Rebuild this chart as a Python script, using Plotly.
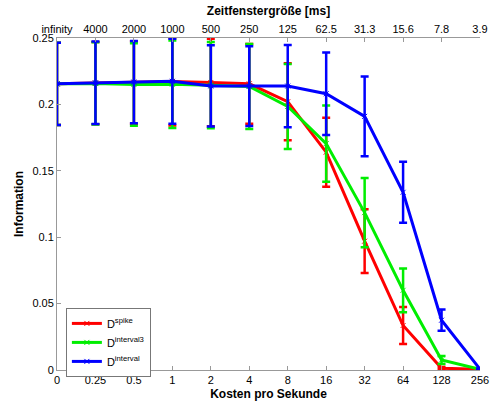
import numpy as np
import plotly.graph_objects as go

cost_labels = ["0", "0.25", "0.5", "1", "2", "4", "8", "16", "32", "64", "128", "256"]
window_labels = ["infinity", "4000", "2000", "1000", "500", "250", "125", "62.5", "31.3", "15.6", "7.8", "3.9"]

spike_mean = [0.2155, 0.2160, 0.2165, 0.2172, 0.2165, 0.2155, 0.2020, 0.1640, 0.0970, 0.0335, 0.0013, 0.0005]
spike_err = [0.031, 0.031, 0.031, 0.033, 0.033, 0.030, 0.029, 0.026, 0.024, 0.014, 0.001, 0.0003]

int3_mean = [0.2155, 0.2158, 0.2150, 0.2152, 0.2145, 0.2135, 0.1985, 0.1705, 0.1185, 0.0600, 0.0075, 0.0005]
int3_err = [0.031, 0.031, 0.031, 0.033, 0.0325, 0.032, 0.032, 0.0287, 0.026, 0.0165, 0.003, 0.0003]

int_mean = [0.2155, 0.2163, 0.2168, 0.2174, 0.2139, 0.2138, 0.2138, 0.2080, 0.1910, 0.1338, 0.0375, 0.0007]
int_err = [0.031, 0.031, 0.031, 0.032, 0.0306, 0.030, 0.031, 0.031, 0.030, 0.023, 0.008, 0.0003]

series = [
    ("D<sup>spike</sup>", spike_mean, spike_err, "#ff0000"),
    ("D<sup>interval3</sup>", int3_mean, int3_err, "#00ee00"),
    ("D<sup>interval</sup>", int_mean, int_err, "#0000ff"),
]

xpos = np.arange(len(cost_labels))

fig = go.Figure()
for name, m, e, c in series:
    # error bars (not shown in legend)
    fig.add_trace(go.Scatter(
        x=xpos, y=m, mode="markers", showlegend=False, hoverinfo="skip",
        marker=dict(size=1, color=c, opacity=0),
        error_y=dict(type="data", array=e, visible=True, color=c, thickness=2.5, width=4),
    ))
    # line with markers (legend entry)
    fig.add_trace(go.Scatter(
        x=xpos, y=m, name=name, mode="lines+markers",
        line=dict(color=c, width=3),
        marker=dict(symbol="x-thin", size=5, color=c, line=dict(color=c, width=1)),
    ))

font = "Liberation Sans, Arial, sans-serif"
axis_common = dict(showgrid=False, zeroline=False, showline=True, linecolor="#999", linewidth=1,
                   ticks="inside", ticklen=4, tickcolor="#999", automargin=False)
fig.update_layout(
    width=493, height=407,
    margin=dict(l=57, r=13, t=38, b=37),
    paper_bgcolor="white", plot_bgcolor="white",
    font=dict(family=font, size=11, color="black"),
    showlegend=True,
    legend=dict(x=0.021, y=0.187, xanchor="left", yanchor="top",
                bordercolor="#777", borderwidth=1, bgcolor="white",
                font=dict(size=11), tracegroupgap=0, itemwidth=30),
    xaxis=dict(range=[0, 11], tickvals=xpos, ticktext=cost_labels,
               title=dict(text="<b>Kosten pro Sekunde</b>", font=dict(size=12), standoff=4),
               **axis_common),
    xaxis2=dict(range=[0, 11], tickvals=xpos, ticktext=window_labels, overlaying="x", side="top",
                title=dict(text="<b>Zeitfenstergröße [ms]</b>", font=dict(size=12), standoff=4),
                **axis_common),
    yaxis=dict(range=[0, 0.25], tickvals=[0, 0.05, 0.1, 0.15, 0.2, 0.25],
               ticktext=["0", "0.05", "0.1", "0.15", "0.2", "0.25"],
               title=dict(text="<b>Information</b>", font=dict(size=12), standoff=6),
               **axis_common),
)
# invisible trace to activate the top axis
fig.add_trace(go.Scatter(x=[0], y=[0], xaxis="x2", mode="markers", marker=dict(opacity=0),
                         showlegend=False, hoverinfo="skip"))

fig.write_html("out.html")
